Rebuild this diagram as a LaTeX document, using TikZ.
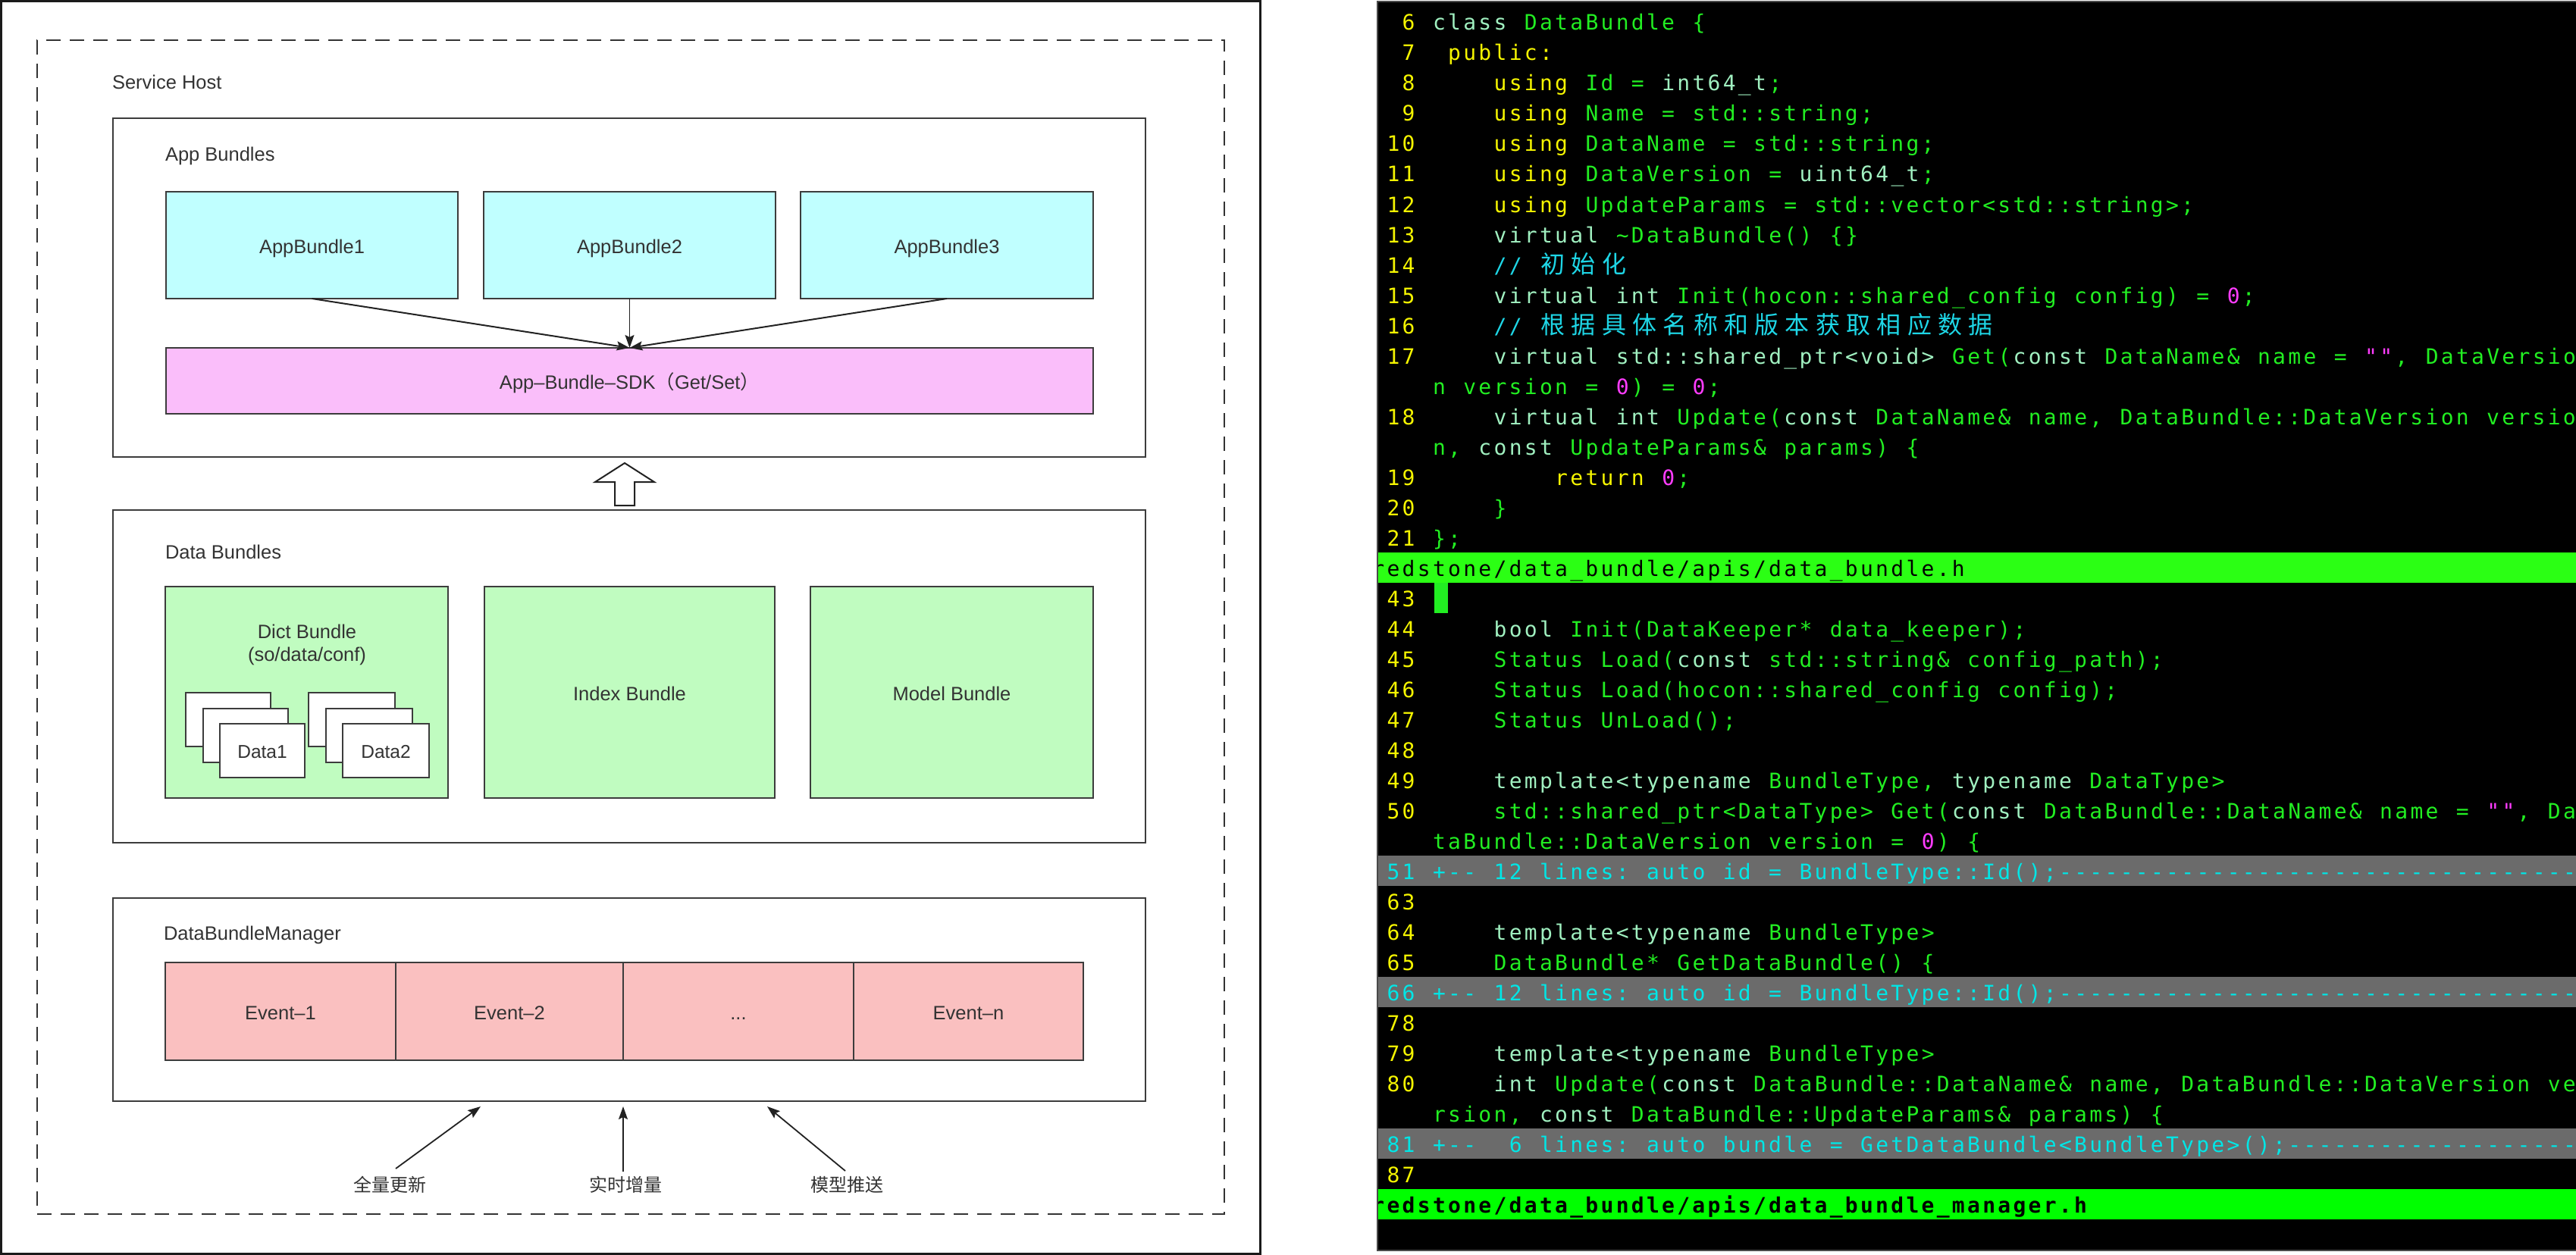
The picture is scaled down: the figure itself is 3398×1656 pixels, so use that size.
\documentclass[tikz,border=0pt]{standalone}
\usepackage{fontspec}
\usetikzlibrary{arrows.meta}
\newfontfamily\labfont{Liberation Sans}
\newfontfamily\cjkfont{Noto Sans CJK SC}
\newfontfamily\codefont[LetterSpace=11.75]{DejaVu Sans Mono}
\newcommand\codesel{\codefont\fontsize{28pt}{28pt}\selectfont\fontdimen2\font=23.44pt\relax\fontdimen3\font=0pt\relax\fontdimen4\font=0pt\relax\frenchspacing}
\newcommand\cjc[1]{\makebox[40.3pt][l]{\cjkfont\fontsize{32pt}{32pt}\selectfont #1}}
\newcommand\cseg[4]{\node[code,text=#3] (s#1c#2) at ({1809.4+20.15*#2},{40+40*#1}) {#4};}
\newcommand\foldd[3]{\foreach \k in {#2,...,#3}{\node[code,text=fcyan] (s#1c\k) at ({1809.4+20.15*\k},{40+40*#1}) {-};}}
\definecolor{txt}{HTML}{333333}
\definecolor{lc}{HTML}{3C3C3C}
\definecolor{ac}{HTML}{222222}
\definecolor{framec}{HTML}{1A1A1A}
\definecolor{cyanf}{HTML}{C0FFFF}
\definecolor{sdkf}{HTML}{FABEFA}
\definecolor{greenf}{HTML}{C0FCC0}
\definecolor{pinkf}{HTML}{FAC0C0}
\definecolor{lnum}{HTML}{F5F500}
\definecolor{yel}{HTML}{F5F500}
\definecolor{mint}{HTML}{A0F0C0}
\definecolor{cg}{HTML}{22EE22}
\definecolor{ccyan}{HTML}{1ED6E6}
\definecolor{fcyan}{HTML}{00E6E6}
\definecolor{cmag}{HTML}{FF3CFF}
\definecolor{foldbg}{HTML}{6B6B6B}
\definecolor{hdra}{HTML}{2BFF14}
\definecolor{hdrb}{HTML}{00FF00}
\definecolor{termb}{HTML}{4A4A4A}
\tikzset{
  lab/.style={font=\labfont\fontsize{25.5pt}{30pt}\selectfont, text=txt, inner sep=0pt, outer sep=0pt},
  boxbase/.style={draw=lc, line width=2pt, inner sep=0pt, outer sep=0pt, anchor=north west},
  cbox/.style={boxbase, lab, text height=22pt, text depth=0pt},
  datasheet/.style={boxbase, fill=white, minimum width=#1, minimum height=71pt},
  datalab/.style={font=\labfont\fontsize{24.5pt}{28pt}\selectfont, text=txt, text height=20.6pt, text depth=0pt},
  cnlab/.style={font=\cjkfont\fontsize{24pt}{28pt}\selectfont, text=txt, inner sep=0pt},
  arr/.style={draw=ac, line width=2pt, -{Stealth[length=17pt,width=12pt,inset=3pt]}},
  code/.style={font=\codesel, anchor=base west, inner sep=0pt, outer sep=0pt},
  bar/.style={inner sep=0pt, outer sep=0pt, anchor=north west, minimum width=1600pt, minimum height=40pt},
}
\begin{document}
\begin{tikzpicture}[x=1pt,y=-1pt]
\useasboundingbox (0,0) rectangle (3398,1656);
\fill[white] (0,0) rectangle (3398,1656);
% ---------------- left diagram ----------------
\node[boxbase, draw=framec, line width=3pt, minimum width=1660.5pt, minimum height=1652pt] (frame) at (1.5,2) {};
\node[boxbase, draw=txt, dash pattern=on 19pt off 12pt, minimum width=1566pt, minimum height=1549pt] (host) at (49,53) {};
\node[lab, anchor=base west] (hostlab) at (148,118) {Service Host};
% App Bundles
\node[boxbase, fill=white, minimum width=1362pt, minimum height=447pt] (appb) at (149,156) {};
\node[lab, anchor=base west] (appblab) at (218,213) {App Bundles};
\node[cbox, fill=cyanf, minimum width=385pt, minimum height=141pt] (ab1) at (219,253) {AppBundle1};
\node[cbox, fill=cyanf, minimum width=385pt, minimum height=141pt] (ab2) at (638,253) {AppBundle2};
\node[cbox, fill=cyanf, minimum width=386pt, minimum height=141pt] (ab3) at (1056,253) {AppBundle3};
\node[cbox, fill=sdkf, minimum width=1223pt, minimum height=87pt] (sdk) at (219,459) {App–Bundle–SDK{\cjkfont （}Get/Set{\cjkfont ）}};
\draw[arr] (ab1.south) -- (sdk.north);
\draw[arr, line width=1pt] (ab2.south) -- (sdk.north);
\draw[arr] (ab3.south) -- (sdk.north);
% open block arrow
\coordinate (upbase) at (824,667);
\draw[fill=white, draw=ac, line width=2pt, line join=miter] (upbase) ++(-13,0) -- ++(0,-31) -- ++(-26,0) -- ++(39,-25) -- ++(39,25) -- ++(-26,0) -- ++(0,31) -- cycle;
% Data Bundles
\node[boxbase, fill=white, minimum width=1362pt, minimum height=439pt] (datab) at (149,673) {};
\node[lab, anchor=base west] (datablab) at (218,737) {Data Bundles};
\node[boxbase, fill=greenf, minimum width=373pt, minimum height=279pt] (dict) at (218,774) {};
\node[lab, anchor=base] (dictl1) at (405,842) {Dict Bundle};
\node[lab, anchor=base] (dictl2) at (405,872) {(so/data/conf)};
\node[datasheet=112pt] (dk1a) at (245,914) {};
\node[datasheet=112pt] (dk1b) at (267.5,934.5) {};
\node[datasheet=112pt, datalab] (dk1c) at (290,955) {Data1};
\node[datasheet=114pt] (dk2a) at (407,914) {};
\node[datasheet=114pt] (dk2b) at (429.5,934.5) {};
\node[datasheet=114pt, datalab] (dk2c) at (452,955) {Data2};
\node[cbox, fill=greenf, minimum width=383pt, minimum height=279pt] (index) at (639,774) {Index Bundle};
\node[cbox, fill=greenf, minimum width=373pt, minimum height=279pt] (model) at (1069,774) {Model Bundle};
% DataBundleManager
\node[boxbase, fill=white, minimum width=1362pt, minimum height=268pt] (mgr) at (149,1185) {};
\node[lab, anchor=base west] (mgrlab) at (216,1240) {DataBundleManager};
\node[cbox, fill=pinkf, minimum width=304pt, minimum height=129pt] (e1) at (218,1270) {Event–1};
\node[cbox, fill=pinkf, minimum width=300pt, minimum height=129pt] (e2) at (522,1270) {Event–2};
\node[cbox, fill=pinkf, minimum width=304pt, minimum height=129pt] (e3) at (822,1270) {...};
\node[cbox, fill=pinkf, minimum width=303pt, minimum height=129pt] (e4) at (1126,1270) {Event–n};
% inputs
\node[cnlab] (lq) at (514,1563) {全量更新};
\node[cnlab] (ls) at (825,1563) {实时增量};
\node[cnlab] (lm) at (1117,1563) {模型推送};
\coordinate (t1) at (522,1542);
\coordinate (t2) at (822,1546);
\coordinate (t3) at (1115,1545);
\coordinate (h1) at (634,1460);
\coordinate (h2) at (822,1460);
\coordinate (h3) at (1012,1460);
\draw[arr, line width=1.8pt] (t1) -- (h1);
\draw[arr, line width=1.8pt] (t2) -- (h2);
\draw[arr, line width=1.8pt] (t3) -- (h3);
% ---------------- code panel ----------------
\node[boxbase, draw=termb, fill=black, minimum width=1600pt, minimum height=1648pt] (term) at (1817,2) {};
\begin{scope}
\clip (1818,3) rectangle (3398,1649);
\node[bar, fill=hdra] (hdr1) at (1817,729) {};
\node[bar, fill=hdrb] (hdr2) at (1817,1569) {};
\node[bar, fill=foldbg] (fold1) at (1817,1129) {};
\node[bar, fill=foldbg] (fold2) at (1817,1289) {};
\node[bar, fill=foldbg] (fold3) at (1817,1489) {};
\node[inner sep=0pt, outer sep=0pt, anchor=north west, fill=cg, minimum width=18pt, minimum height=40pt] (cursor) at (1892,769) {};
\cseg{0}{2}{lnum}{6}\cseg{0}{4}{mint}{class}\cseg{0}{10}{cg}{DataBundle \{}
\cseg{1}{2}{lnum}{7}\cseg{1}{5}{yel}{public:}
\cseg{2}{2}{lnum}{8}\cseg{2}{8}{yel}{using}\cseg{2}{14}{cg}{Id =}\cseg{2}{19}{mint}{int64\_t}\cseg{2}{26}{cg}{;}
\cseg{3}{2}{lnum}{9}\cseg{3}{8}{yel}{using}\cseg{3}{14}{cg}{Name = std::string;}
\cseg{4}{1}{lnum}{10}\cseg{4}{8}{yel}{using}\cseg{4}{14}{cg}{DataName = std::string;}
\cseg{5}{1}{lnum}{11}\cseg{5}{8}{yel}{using}\cseg{5}{14}{cg}{DataVersion =}\cseg{5}{28}{mint}{uint64\_t}\cseg{5}{36}{cg}{;}
\cseg{6}{1}{lnum}{12}\cseg{6}{8}{yel}{using}\cseg{6}{14}{cg}{UpdateParams = std::vector<std::string>;}
\cseg{7}{1}{lnum}{13}\cseg{7}{8}{mint}{virtual}\cseg{7}{16}{cg}{\textasciitilde DataBundle() \{\}}
\cseg{8}{1}{lnum}{14}\cseg{8}{8}{ccyan}{//}
\node[code, text=ccyan] (s8c11) at ({1809.4+20.15*11+1.5},360) {\cjc{初}\cjc{始}\cjc{化}};
\cseg{9}{1}{lnum}{15}\cseg{9}{8}{mint}{virtual int}\cseg{9}{20}{cg}{Init(hocon::shared\_config config) =}\cseg{9}{56}{cmag}{0}\cseg{9}{57}{cg}{;}
\cseg{10}{1}{lnum}{16}\cseg{10}{8}{ccyan}{//}
\node[code, text=ccyan] (s10c11) at ({1809.4+20.15*11+1.5},440) {\cjc{根}\cjc{据}\cjc{具}\cjc{体}\cjc{名}\cjc{称}\cjc{和}\cjc{版}\cjc{本}\cjc{获}\cjc{取}\cjc{相}\cjc{应}\cjc{数}\cjc{据}};
\cseg{11}{1}{lnum}{17}\cseg{11}{8}{mint}{virtual}\cseg{11}{16}{mint}{std::shared\_ptr<void>}\cseg{11}{38}{cg}{Get(}\cseg{11}{42}{mint}{const}\cseg{11}{48}{cg}{DataName\& name =}\cseg{11}{65}{cmag}{""}\cseg{11}{67}{cg}{, DataVersio}
\cseg{12}{4}{cg}{n version =}\cseg{12}{16}{cmag}{0}\cseg{12}{17}{cg}{) =}\cseg{12}{21}{cmag}{0}\cseg{12}{22}{cg}{;}
\cseg{13}{1}{lnum}{18}\cseg{13}{8}{mint}{virtual int}\cseg{13}{20}{cg}{Update(}\cseg{13}{27}{mint}{const}\cseg{13}{33}{cg}{DataName\& name, DataBundle::DataVersion versio}
\cseg{14}{4}{cg}{n,}\cseg{14}{7}{mint}{const}\cseg{14}{13}{cg}{UpdateParams\& params) \{}
\cseg{15}{1}{lnum}{19}\cseg{15}{12}{yel}{return}\cseg{15}{19}{cmag}{0}\cseg{15}{20}{cg}{;}
\cseg{16}{1}{lnum}{20}\cseg{16}{8}{cg}{\}}
\cseg{17}{1}{lnum}{21}\cseg{17}{4}{cg}{\};}
\cseg{18}{0}{black}{redstone/data\_bundle/apis/data\_bundle.h}
\cseg{19}{1}{lnum}{43}
\cseg{20}{1}{lnum}{44}\cseg{20}{8}{mint}{bool}\cseg{20}{13}{cg}{Init(DataKeeper* data\_keeper);}
\cseg{21}{1}{lnum}{45}\cseg{21}{8}{cg}{Status Load(}\cseg{21}{20}{mint}{const}\cseg{21}{26}{cg}{std::string\& config\_path);}
\cseg{22}{1}{lnum}{46}\cseg{22}{8}{cg}{Status Load(hocon::shared\_config config);}
\cseg{23}{1}{lnum}{47}\cseg{23}{8}{cg}{Status UnLoad();}
\cseg{24}{1}{lnum}{48}
\cseg{25}{1}{lnum}{49}\cseg{25}{8}{mint}{template<typename}\cseg{25}{26}{cg}{BundleType,}\cseg{25}{38}{mint}{typename}\cseg{25}{47}{cg}{DataType>}
\cseg{26}{1}{lnum}{50}\cseg{26}{8}{cg}{std::shared\_ptr<DataType> Get(}\cseg{26}{38}{mint}{const}\cseg{26}{44}{cg}{DataBundle::DataName\& name =}\cseg{26}{73}{cmag}{""}\cseg{26}{75}{cg}{, Da}
\cseg{27}{4}{cg}{taBundle::DataVersion version =}\cseg{27}{36}{cmag}{0}\cseg{27}{37}{cg}{) \{}
\cseg{28}{1}{fcyan}{51}\cseg{28}{4}{fcyan}{+}\foldd{28}{5}{6}\cseg{28}{8}{fcyan}{12 lines: auto id = BundleType::Id();}\foldd{28}{45}{78}
\cseg{29}{1}{lnum}{63}
\cseg{30}{1}{lnum}{64}\cseg{30}{8}{mint}{template<typename}\cseg{30}{26}{cg}{BundleType>}
\cseg{31}{1}{lnum}{65}\cseg{31}{8}{cg}{DataBundle* GetDataBundle() \{}
\cseg{32}{1}{fcyan}{66}\cseg{32}{4}{fcyan}{+}\foldd{32}{5}{6}\cseg{32}{8}{fcyan}{12 lines: auto id = BundleType::Id();}\foldd{32}{45}{78}
\cseg{33}{1}{lnum}{78}
\cseg{34}{1}{lnum}{79}\cseg{34}{8}{mint}{template<typename}\cseg{34}{26}{cg}{BundleType>}
\cseg{35}{1}{lnum}{80}\cseg{35}{8}{mint}{int}\cseg{35}{12}{cg}{Update(}\cseg{35}{19}{mint}{const}\cseg{35}{25}{cg}{DataBundle::DataName\& name, DataBundle::DataVersion ve}
\cseg{36}{4}{cg}{rsion,}\cseg{36}{11}{mint}{const}\cseg{36}{17}{cg}{DataBundle::UpdateParams\& params) \{}
\cseg{37}{1}{fcyan}{81}\cseg{37}{4}{fcyan}{+}\foldd{37}{5}{6}\cseg{37}{9}{fcyan}{6 lines: auto bundle = GetDataBundle<BundleType>();}\foldd{37}{60}{78}
\cseg{38}{1}{lnum}{87}
\cseg{39}{0}{black}{\bfseries redstone/data\_bundle/apis/data\_bundle\_manager.h}
\end{scope}
\end{tikzpicture}
\end{document}
